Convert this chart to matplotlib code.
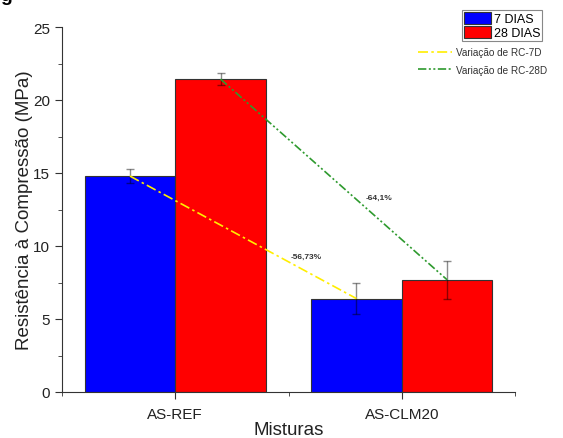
"""plot.py"""

import matplotlib.pyplot as plt
import numpy as np
from matplotlib.patches import Patch
from matplotlib.lines import Line2D

plt.rcParams['font.family'] = ['Liberation Sans', 'DejaVu Sans']

misturas = ['AS-REF', 'AS-CLM20']
rc_7d = [14.79, 6.40]
rc_28d = [21.43, 7.69]
err_7d = [0.50, 1.05]
err_28d = [0.40, 1.30]
var_labels = ['-56,73%', '-64,1%']

x = np.arange(1, len(misturas) + 1)
W = 0.4

fig = plt.figure(figsize=(5.63, 4.39), dpi=100)
ax = fig.add_axes([62 / 563, 1 - 393 / 439, (515 - 62) / 563, (393 - 28) / 439])

ax.bar(x - W / 2, rc_7d, W, color='#0000ff', edgecolor='#333333', linewidth=0.8, zorder=2)
ax.bar(x + W / 2, rc_28d, W, color='#ff0000', edgecolor='#333333', linewidth=0.8, zorder=2)
ax.errorbar(x - W / 2, rc_7d, yerr=err_7d, fmt='none', ecolor='black', alpha=0.45,
            elinewidth=1, capsize=3, capthick=1, zorder=3)
ax.errorbar(x + W / 2, rc_28d, yerr=err_28d, fmt='none', ecolor='black', alpha=0.45,
            elinewidth=1, capsize=3, capthick=1, zorder=3)

# linhas de variacao
ls_7d = (0, (6, 2, 1.5, 2))
ls_28d = (0, (5, 1.5, 1.2, 1.5, 1.2, 1.5))
ax.plot(x - W / 2, rc_7d, color='#ffee00', linestyle=ls_7d, linewidth=1.2, zorder=4)
ax.plot(x + W / 2, rc_28d, color='#2e9a2e', linestyle=ls_28d, linewidth=1.2, zorder=4)
ax.text(1.58, 9.3, var_labels[0], fontsize=6, fontweight='bold', color='#333333',
        ha='center', va='center')
ax.text(1.90, 13.35, var_labels[1], fontsize=6, fontweight='bold', color='#333333',
        ha='center', va='center')

ax.set_xlim(0.5, 2.5)
ax.set_ylim(0, 25)
ax.set_xticks(x)
ax.set_xticklabels(misturas)
ax.set_xticks([0.5, 1.5, 2.5], minor=True)
ax.set_yticks(np.arange(0, 26, 5))
ax.set_yticks(np.arange(2.5, 25, 5), minor=True)
ax.tick_params(axis='both', which='major', direction='out', length=5, labelsize=11,
               colors='#333333', labelcolor='#222222')
ax.tick_params(axis='x', which='major', pad=6)
ax.tick_params(axis='both', which='minor', direction='out', length=3, colors='#333333')
ax.spines['top'].set_visible(False)
ax.spines['right'].set_visible(False)
for s in ['left', 'bottom']:
    ax.spines[s].set_color('#333333')

ax.set_xlabel('Misturas', fontsize=13.5, color='#222222', labelpad=0)
ax.set_ylabel('Resistência à Compressão (MPa)', fontsize=13.5, color='#222222', labelpad=0)

# pedaco da legenda da figura cortado no topo
fig.text(0.0, 1 - 1 / 439, 'g', fontsize=14, fontweight='bold', va='baseline', ha='left')

leg1 = fig.legend(handles=[Patch(facecolor='#0000ff', edgecolor='#333333', linewidth=0.8),
                           Patch(facecolor='#ff0000', edgecolor='#333333', linewidth=0.8)],
                  labels=['7 DIAS', '28 DIAS'], loc='upper left',
                  bbox_to_anchor=(462 / 563, 1 - 11 / 439), fontsize=9,
                  handlelength=2.2, handleheight=1.1, handletextpad=0.2,
                  labelspacing=0.05, borderpad=0.15, borderaxespad=0,
                  fancybox=False, edgecolor='#888888', framealpha=1)
leg1.get_frame().set_linewidth(0.8)

leg2 = fig.legend(handles=[Line2D([], [], color='#ffee00', linestyle=ls_7d, linewidth=1.2),
                           Line2D([], [], color='#2e9a2e', linestyle=ls_28d, linewidth=1.2)],
                  labels=['Variação de RC-7D', 'Variação de RC-28D'], loc='upper left',
                  bbox_to_anchor=(418 / 563, 1 - 48 / 439), fontsize=7.2,
                  handlelength=3.4, handletextpad=0.4, labelspacing=0.75,
                  borderpad=0, borderaxespad=0, frameon=False)
for t in leg2.get_texts():
    t.set_color('#333333')

plt.savefig('out.png', dpi=100)
